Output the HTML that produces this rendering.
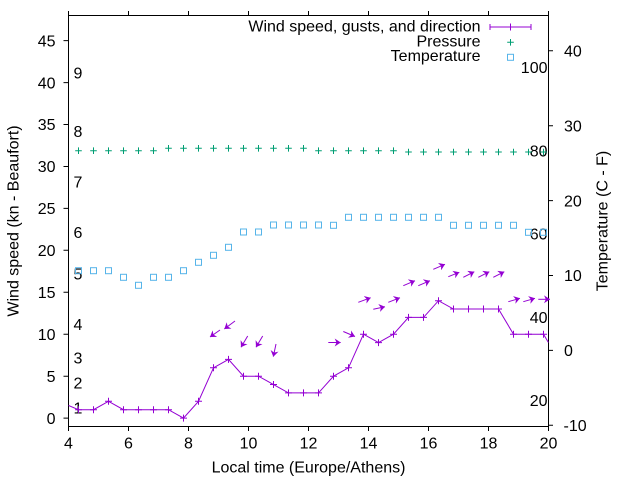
<!DOCTYPE html>
<html><head><meta charset="utf-8"><style>
html,body{margin:0;padding:0;background:#fff;}
svg{display:block;}
text{font-family:"Liberation Sans",Arial,sans-serif;font-size:16px;fill:#000;}
</style></head><body>
<svg width="640" height="480" viewBox="0 0 640 480" xmlns="http://www.w3.org/2000/svg">
<defs>
<marker id="ah" viewBox="0 0 10 10" refX="10" refY="5" markerWidth="6" markerHeight="8" markerUnits="userSpaceOnUse" orient="auto" preserveAspectRatio="none">
<path d="M0,0 L10,5 L0,10 L3,5 z" fill="#9400d3"/>
</marker>
<clipPath id="pc"><rect x="68.5" y="15.5" width="480" height="411"/></clipPath>
</defs>
<rect width="640" height="480" fill="#fff"/>

<!-- border and ticks -->
<g stroke="#000" stroke-width="1" fill="none">
<rect x="68.5" y="15.5" width="480" height="411"/>
<path d="M68.5,426.5v4.5M128.5,426.5v4.5M188.5,426.5v4.5M248.5,426.5v4.5M308.5,426.5v4.5M368.5,426.5v4.5M428.5,426.5v4.5M488.5,426.5v4.5M548.5,426.5v4.5"/>
<path d="M68.5,15.5v-4.5M128.5,15.5v-4.5M188.5,15.5v-4.5M248.5,15.5v-4.5M308.5,15.5v-4.5M368.5,15.5v-4.5M428.5,15.5v-4.5M488.5,15.5v-4.5M548.5,15.5v-4.5"/>
<path d="M63.5,418.1h5M63.5,376.2h5M63.5,334.2h5M63.5,292.3h5M63.5,250.3h5M63.5,208.4h5M63.5,166.5h5M63.5,124.5h5M63.5,82.6h5M63.5,40.6h5"/>
<path d="M548.5,425.3h4.5M548.5,350.4h4.5M548.5,275.5h4.5M548.5,200.6h4.5M548.5,125.7h4.5M548.5,50.8h4.5"/>
</g>

<!-- y1 tick labels -->
<g text-anchor="end">
<text x="55.5" y="423.8">0</text>
<text x="55.5" y="381.9">5</text>
<text x="55.5" y="339.9">10</text>
<text x="55.5" y="298">15</text>
<text x="55.5" y="256">20</text>
<text x="55.5" y="214.1">25</text>
<text x="55.5" y="172.2">30</text>
<text x="55.5" y="130.2">35</text>
<text x="55.5" y="88.3">40</text>
<text x="55.5" y="46.3">45</text>
</g>
<!-- y2 tick labels -->
<g text-anchor="start">
<text x="563.5" y="431">-10</text>
<text x="564" y="356.1">0</text>
<text x="564" y="281.2">10</text>
<text x="564" y="206.3">20</text>
<text x="564" y="131.4">30</text>
<text x="564" y="56.5">40</text>
</g>
<!-- x tick labels -->
<g text-anchor="middle">
<text x="68.5" y="448.5">4</text>
<text x="128.5" y="448.5">6</text>
<text x="188.5" y="448.5">8</text>
<text x="248.5" y="448.5">10</text>
<text x="308.5" y="448.5">12</text>
<text x="368.5" y="448.5">14</text>
<text x="428.5" y="448.5">16</text>
<text x="488.5" y="448.5">18</text>
<text x="548.5" y="448.5">20</text>
</g>
<!-- axis labels -->
<text x="308.5" y="472.5" text-anchor="middle">Local time (Europe/Athens)</text>
<text transform="translate(18.3,221) rotate(-90)" text-anchor="middle">Wind speed (kn - Beaufort)</text>
<text transform="translate(607.3,221) rotate(-90)" text-anchor="middle">Temperature (C - F)</text>

<!-- Beaufort labels -->
<g text-anchor="start">
<text x="73.5" y="78.4">9</text>
<text x="73.5" y="137.1">8</text>
<text x="73.5" y="187.4">7</text>
<text x="73.5" y="237.8">6</text>
<text x="73.5" y="279.7">5</text>
<text x="73.5" y="330">4</text>
<text x="73.5" y="363.6">3</text>
<text x="73.5" y="388.7">2</text>
<text x="73.5" y="413.5">1</text>
</g>
<!-- Fahrenheit labels -->
<g text-anchor="end">
<text x="547.5" y="73.1">100</text>
<text x="547.5" y="156.3">80</text>
<text x="547.5" y="239.5">60</text>
<text x="547.5" y="322.8">40</text>
<text x="547.5" y="406.1">20</text>
</g>

<g clip-path="url(#pc)">
<!-- temperature squares -->
<g stroke="#56b4e9" stroke-width="1" fill="none">
<rect x="75.5" y="267.7" width="6" height="6"/>
<rect x="90.5" y="267.7" width="6" height="6"/>
<rect x="105.5" y="267.7" width="6" height="6"/>
<rect x="120.5" y="274.3" width="6" height="6"/>
<rect x="135.5" y="282.3" width="6" height="6"/>
<rect x="150.5" y="274.3" width="6" height="6"/>
<rect x="165.5" y="274.3" width="6" height="6"/>
<rect x="180.5" y="267.7" width="6" height="6"/>
<rect x="195.5" y="259.3" width="6" height="6"/>
<rect x="210.5" y="252.3" width="6" height="6"/>
<rect x="225.5" y="244.3" width="6" height="6"/>
<rect x="240.5" y="229" width="6" height="6"/>
<rect x="255.5" y="229" width="6" height="6"/>
<rect x="270.5" y="222" width="6" height="6"/>
<rect x="285.5" y="222" width="6" height="6"/>
<rect x="300.5" y="222" width="6" height="6"/>
<rect x="315.5" y="222" width="6" height="6"/>
<rect x="330.5" y="222.3" width="6" height="6"/>
<rect x="345.5" y="214.3" width="6" height="6"/>
<rect x="360.5" y="214.3" width="6" height="6"/>
<rect x="375.5" y="214.3" width="6" height="6"/>
<rect x="390.5" y="214.3" width="6" height="6"/>
<rect x="405.5" y="214.3" width="6" height="6"/>
<rect x="420.5" y="214.3" width="6" height="6"/>
<rect x="435.5" y="214.3" width="6" height="6"/>
<rect x="450.5" y="222.3" width="6" height="6"/>
<rect x="465.5" y="222.3" width="6" height="6"/>
<rect x="480.5" y="222.3" width="6" height="6"/>
<rect x="495.5" y="222.3" width="6" height="6"/>
<rect x="510.5" y="222.3" width="6" height="6"/>
<rect x="525.5" y="229.3" width="6" height="6"/>
<rect x="540.5" y="229.3" width="6" height="6"/>
</g>

<!-- pressure crosses -->
<path stroke="#009e73" stroke-width="1" fill="none" d="
M75.2,150.7h6.6M78.5,147.4v6.6
M90.2,150.7h6.6M93.5,147.4v6.6
M105.2,150.7h6.6M108.5,147.4v6.6
M120.2,150.7h6.6M123.5,147.4v6.6
M135.2,150.7h6.6M138.5,147.4v6.6
M150.2,150.7h6.6M153.5,147.4v6.6
M165.2,148.3h6.6M168.5,145v6.6
M180.2,148.3h6.6M183.5,145v6.6
M195.2,148.3h6.6M198.5,145v6.6
M210.2,148.3h6.6M213.5,145v6.6
M225.2,148.3h6.6M228.5,145v6.6
M240.2,148.3h6.6M243.5,145v6.6
M255.2,148.3h6.6M258.5,145v6.6
M270.2,148.3h6.6M273.5,145v6.6
M285.2,148.3h6.6M288.5,145v6.6
M300.2,148.3h6.6M303.5,145v6.6
M315.2,150.7h6.6M318.5,147.4v6.6
M330.2,150.7h6.6M333.5,147.4v6.6
M345.2,150.7h6.6M348.5,147.4v6.6
M360.2,150.7h6.6M363.5,147.4v6.6
M375.2,150.7h6.6M378.5,147.4v6.6
M390.2,150.7h6.6M393.5,147.4v6.6
M405.2,152h6.6M408.5,148.7v6.6
M420.2,152h6.6M423.5,148.7v6.6
M435.2,152h6.6M438.5,148.7v6.6
M450.2,152h6.6M453.5,148.7v6.6
M465.2,152h6.6M468.5,148.7v6.6
M480.2,152h6.6M483.5,148.7v6.6
M495.2,152h6.6M498.5,148.7v6.6
M510.2,152h6.6M513.5,148.7v6.6
M525.2,152h6.6M528.5,148.7v6.6
M540.2,152h6.6M543.5,148.7v6.6"/>

<!-- wind line -->
<polyline fill="none" stroke="#9400d3" stroke-width="1" points="68.5,405.5 78.5,409.7 93.5,409.7 108.5,401.3 123.5,409.7 138.5,409.7 153.5,409.7 168.5,409.7 183.5,418.1 198.5,401.3 213.5,367.8 228.5,359.4 243.5,376.2 258.5,376.2 273.5,384.5 288.5,392.9 303.5,392.9 318.5,392.9 333.5,376.2 348.5,367.8 363.5,334.2 378.5,342.6 393.5,334.2 408.5,317.4 423.5,317.4 438.5,300.7 453.5,309 468.5,309 483.5,309 498.5,309 513.5,334.2 528.5,334.2 543.5,334.2 548.5,342.6"/>
<path stroke="#9400d3" stroke-width="1" fill="none" d="
M75,409.7h7M78.5,406.2v7
M90,409.7h7M93.5,406.2v7
M105,401.3h7M108.5,397.8v7
M120,409.7h7M123.5,406.2v7
M135,409.7h7M138.5,406.2v7
M150,409.7h7M153.5,406.2v7
M165,409.7h7M168.5,406.2v7
M180,418.1h7M183.5,414.6v7
M195,401.3h7M198.5,397.8v7
M210,367.8h7M213.5,364.3v7
M225,359.4h7M228.5,355.9v7
M240,376.2h7M243.5,372.7v7
M255,376.2h7M258.5,372.7v7
M270,384.5h7M273.5,381v7
M285,392.9h7M288.5,389.4v7
M300,392.9h7M303.5,389.4v7
M315,392.9h7M318.5,389.4v7
M330,376.2h7M333.5,372.7v7
M345,367.8h7M348.5,364.3v7
M360,334.2h7M363.5,330.7v7
M375,342.6h7M378.5,339.1v7
M390,334.2h7M393.5,330.7v7
M405,317.4h7M408.5,313.9v7
M420,317.4h7M423.5,313.9v7
M435,300.7h7M438.5,297.2v7
M450,309h7M453.5,305.5v7
M465,309h7M468.5,305.5v7
M480,309h7M483.5,305.5v7
M495,309h7M498.5,305.5v7
M510,334.2h7M513.5,330.7v7
M525,334.2h7M528.5,330.7v7
M540,334.2h7M543.5,330.7v7"/>
</g>

<!-- wind direction arrows -->
<g stroke="#9400d3" stroke-width="1" fill="none" marker-end="url(#ah)">
<line x1="220" y1="330" x2="210" y2="337"/>
<line x1="235" y1="321" x2="224.3" y2="329"/>
<line x1="247.7" y1="336" x2="241" y2="347.3"/>
<line x1="262.7" y1="336" x2="256" y2="347.3"/>
<line x1="276" y1="344" x2="273.3" y2="356.7"/>
<line x1="328.3" y1="342.5" x2="340.7" y2="342.5"/>
<line x1="343.3" y1="331.5" x2="355" y2="336.5"/>
<line x1="358.3" y1="302.3" x2="370.7" y2="297.7"/>
<line x1="373.3" y1="309.3" x2="385" y2="306.7"/>
<line x1="388.3" y1="302.3" x2="400" y2="297.7"/>
<line x1="403.3" y1="285.7" x2="415" y2="280.7"/>
<line x1="418.3" y1="285.7" x2="430" y2="280.7"/>
<line x1="433.3" y1="269.3" x2="445" y2="264.3"/>
<line x1="448.3" y1="276.7" x2="459.3" y2="272.3"/>
<line x1="463.3" y1="277.3" x2="474.3" y2="271.7"/>
<line x1="478.3" y1="277.3" x2="489.3" y2="271.7"/>
<line x1="493.3" y1="277.3" x2="504.3" y2="271.7"/>
<line x1="508.3" y1="301.7" x2="520" y2="298.3"/>
<line x1="523.3" y1="301.7" x2="535" y2="298.3"/>
<line x1="538.3" y1="299.3" x2="550" y2="299.3"/>
</g>

<!-- legend -->
<g text-anchor="end">
<text x="480.5" y="31.6">Wind speed, gusts, and direction</text>
<text x="480.5" y="46.3">Pressure</text>
<text x="480.5" y="61">Temperature</text>
</g>
<path stroke="#9400d3" stroke-width="1" fill="none" d="M490,27H531M490,24v6M531,24v6M510.5,23.5v7"/>
<path stroke="#009e73" stroke-width="1" fill="none" d="M507.2,42.3h6.6M510.5,39v6.6"/>
<rect x="507.5" y="54.3" width="6" height="6" stroke="#56b4e9" stroke-width="1" fill="none"/>
</svg>
</body></html>
